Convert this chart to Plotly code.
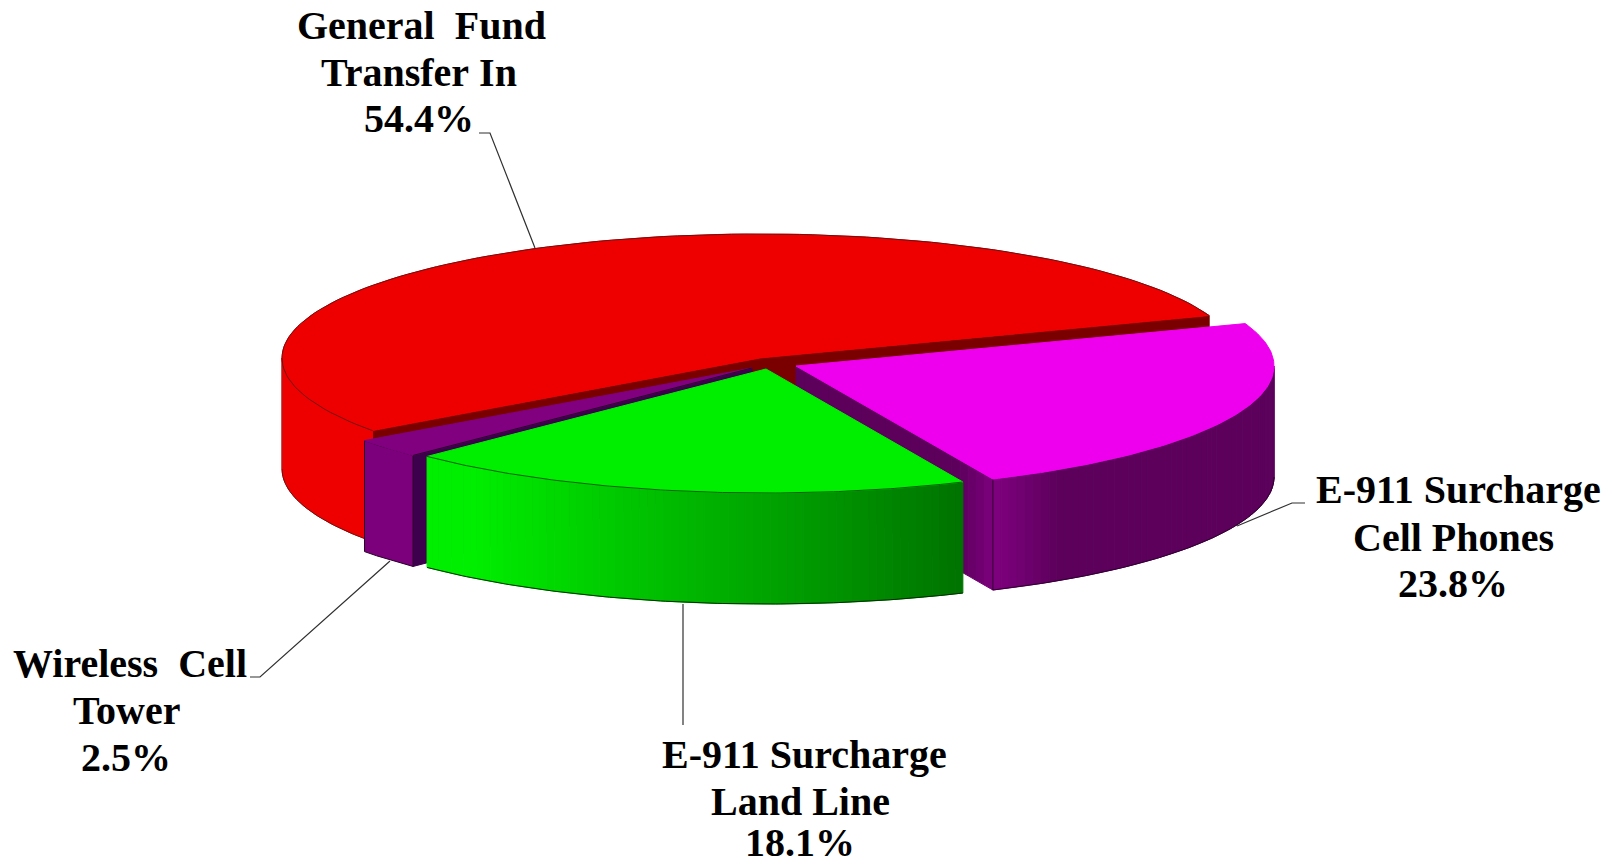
import math
import plotly.graph_objects as go

# ---- data ----
categories = ["General Fund Transfer In", "Wireless Cell Tower", "E-911 Surcharge Land Line", "E-911 Surcharge Cell Phones"]
shares = [54.4, 2.5, 18.1, 23.8]
label_lines = [
    ["General\u00a0\u00a0Fund", "Transfer\u00a0In", "54.4%"],
    ["Wireless\u00a0\u00a0Cell", "Tower", "2.5%"],
    ["E-911\u00a0Surcharge", "Land\u00a0Line", "18.1%"],
    ["E-911\u00a0Surcharge", "Cell\u00a0Phones", "23.8%"],
]

# ---- drawing constants (canvas in pixels) ----
W, H = 1612, 866
A, B, DEPTH = 478, 124, 111
START = 20.0
# The printed shares total 98.8%; in the picture the remainder sits in the Land Line slice.
residual = 100 - sum(shares)
sweep = [s * 3.6 for s in shares]
sweep[2] += residual * 3.6
centres = [(760, 358), (752, 368), (766, 369), (796, 366)]

label_pos = [
    [(421.5, 25), (418.5, 72), (418.5, 118)],
    [(129.5, 663), (126.5, 710), (125.5, 757)],
    [(804, 754), (800, 801), (800, 842)],
    [(1458, 489), (1453, 537), (1453, 583)],
]
leaders = [
    [(479, 133), (490, 133), (535, 248)],
    [(250, 677), (260, 677), (390, 561)],
    [(683, 604), (683, 725)],
    [(1237, 526), (1292, 503), (1305, 503)],
]

angles = []
a0 = START
for sw in sweep:
    angles.append((a0, a0 + sw))
    a0 += sw


def pt(c, t, dz=0):
    r = math.radians(t)
    return c[0] + A * math.cos(r), c[1] - B * math.sin(r) + dz


def arc(c, t0, t1, dz=0, n=120):
    return [pt(c, t0 + (t1 - t0) * i / n, dz) for i in range(n + 1)]


fig = go.Figure()


def poly(points, fill, line=None, lw=1):
    xs = [p[0] for p in points] + [points[0][0]]
    ys = [p[1] for p in points] + [points[0][1]]
    fig.add_trace(go.Scatter(x=xs, y=ys, mode="lines", fill="toself", fillcolor=fill,
                             line=dict(color=line or fill, width=lw), hoverinfo="skip", showlegend=False))


def stroke(points, color, lw=1):
    fig.add_trace(go.Scatter(x=[p[0] for p in points], y=[p[1] for p in points], mode="lines",
                             line=dict(color=color, width=lw), hoverinfo="skip", showlegend=False))


def cut_wall(c, t, fill):
    e = pt(c, t)
    poly([c, e, (e[0], e[1] + DEPTH), (c[0], c[1] + DEPTH)], fill)


def outer_wall(c, t0, t1, colour_at, strips=60):
    for i in range(strips):
        f0, f1 = i / strips, (i + 1) / strips
        top = arc(c, t0 + (t1 - t0) * f0, t0 + (t1 - t0) * f1, n=4)
        bot = arc(c, t0 + (t1 - t0) * f0, t0 + (t1 - t0) * f1, DEPTH, n=4)
        poly(top + bot[::-1], colour_at((f0 + f1) / 2))


def lerp(f, a, b):
    return a + (b - a) * f


def rgb(r, g, b):
    return f"rgb({int(r)},{int(g)},{int(b)})"


def top_face(c, t0, t1, fill):
    poly([c] + arc(c, t0, t1), fill)


# General Fund
c = centres[0]
t0, t1 = angles[0]
cut_wall(c, t0, "#7a0000")
cut_wall(c, t1, "#7a0000")
poly(arc(c, 180, t1) + arc(c, 180, t1, DEPTH)[::-1], "#ee0000")
stroke(arc(c, 180, t1, DEPTH), "#701010")
stroke([pt(c, 180), pt(c, 180, DEPTH)], "#a02020")
top_face(c, t0, t1, "#ee0000")
stroke(arc(c, t0, t1), "#701010")

# Wireless Cell Tower
c = centres[1]
t0, t1 = angles[1]
cut_wall(c, t1, "#3c004c")
poly(arc(c, t0, t1) + arc(c, t0, t1, DEPTH)[::-1], "#7c007c", "#2a002a")
top_face(c, t0, t1, "#800080")
stroke([pt(c, t1), c], "#2a002a")

# Cell Phones
c = centres[3]
t0, t1 = angles[3]
e = pt(c, t0)
n = 24
for i in range(n):
    f0, f1 = i / n, (i + 1) / n
    x0, y0 = lerp(f0, c[0], e[0]), lerp(f0, c[1], e[1])
    x1, y1 = lerp(f1, c[0], e[0]), lerp(f1, c[1], e[1])
    m = max(0, ((f0 + f1) / 2 - 0.82) / 0.18)
    poly([(x0, y0), (x1, y1), (x1, y1 + DEPTH), (x0, y0 + DEPTH)], rgb(lerp(m, 92, 124), 0, lerp(m, 92, 124)))


def phone_col(f):
    m = max(0.0, 1 - f / 0.14)
    return rgb(lerp(m, 92, 128), 0, lerp(m, 92, 128))


outer_wall(c, t0, 360, phone_col)
stroke(arc(c, t0, 360, DEPTH), "#300030")
stroke([e, (e[0], e[1] + DEPTH)], "#300030")
top_face(c, t0, t1, "#ee00ee")

# Land Line
c = centres[2]
t0, t1 = angles[2]


def land_col(f):
    m = max(0.0, (f - 0.12) / 0.88)
    return rgb(0, lerp(m, 238, 116), 0)


outer_wall(c, t0, t1, land_col, strips=70)
stroke(arc(c, t0, t1, DEPTH), "#003000")
top_face(c, t0, t1, "#00ee00")
stroke(arc(c, t0, t1), "#006000")

# Leader lines
for pts in leaders:
    stroke(pts, "#303030", 1.2)

# Labels, one line of text per annotation
for lines, places in zip(label_lines, label_pos):
    for txt, (x, y) in zip(lines, places):
        fig.add_annotation(x=x, y=y, text=f"<b>{txt}</b>", showarrow=False, xanchor="center", yanchor="middle",
                           font=dict(family="Liberation Serif", size=40, color="#000000"))

fig.update_layout(
    width=W, height=H, margin=dict(l=0, r=0, t=0, b=0), paper_bgcolor="white", plot_bgcolor="white",
    showlegend=False,
    xaxis=dict(range=[0, W], visible=False, fixedrange=True),
    yaxis=dict(range=[H, 0], visible=False, fixedrange=True),
)
fig.write_html("out.html", config={"displayModeBar": False},
               post_script="document.body.style.margin='0';document.body.style.overflow='hidden';")
